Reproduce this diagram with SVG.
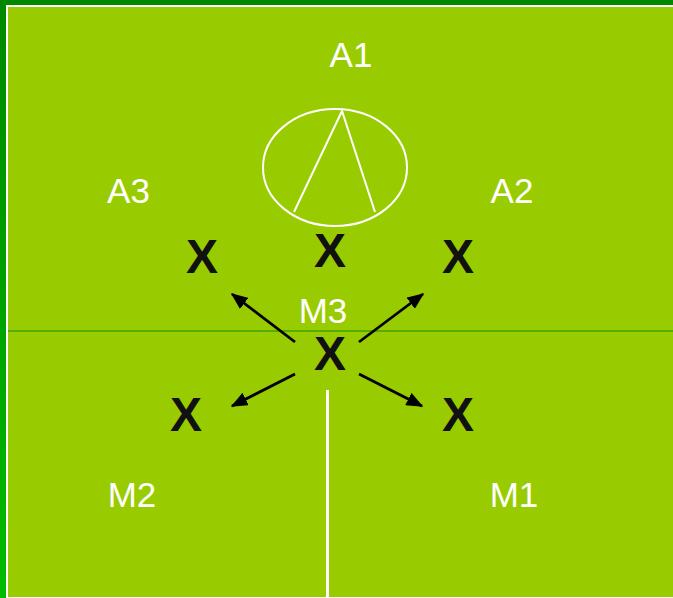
<svg xmlns="http://www.w3.org/2000/svg" width="673" height="598" viewBox="0 0 673 598">
<defs>
<linearGradient id="edge" x1="0" y1="0" x2="0" y2="1">
<stop offset="0" stop-color="#008800"/>
<stop offset="1" stop-color="#00bb00"/>
</linearGradient>
<marker id="ah" markerWidth="6" markerHeight="5" refX="5.5" refY="2.5" orient="auto" markerUnits="strokeWidth">
<path d="M0,0 L6,2.5 L0,5 Z" fill="#000"/>
</marker>
<style>
.lbl{font-family:"Liberation Sans",Arial,sans-serif;font-size:35px;fill:#fff;text-anchor:middle}
.x{font-family:"Liberation Sans",Arial,sans-serif;font-size:48px;font-weight:bold;fill:#111;text-anchor:middle}
.arr{stroke:#000;stroke-width:2.8;fill:none;marker-end:url(#ah)}
</style>
</defs>
<rect x="0" y="0" width="673" height="598" fill="url(#edge)"/>
<rect x="0" y="0" width="673" height="5" fill="#008800"/>
<rect x="6" y="5" width="667" height="593" fill="#fff"/>
<rect x="8" y="7" width="665" height="590" fill="#99cc00"/>
<line x1="8" y1="331" x2="673" y2="331" stroke="#0f8f00" stroke-width="1"/>
<line x1="327.5" y1="390" x2="327.5" y2="598" stroke="#fff" stroke-width="3"/>
<g id="goal" fill="none" stroke="#fff" stroke-width="2">
<ellipse cx="335" cy="167.5" rx="72" ry="58.5"/>
<polyline points="294,212 342,111 375,212"/>
</g>
<g id="A1"><text class="lbl" x="351" y="67">A1</text></g>
<g id="A2"><text class="lbl" x="512" y="203">A2</text></g>
<g id="A3"><text class="lbl" x="128.5" y="203">A3</text></g>
<g id="M1"><text class="lbl" x="514" y="507">M1</text></g>
<g id="M2"><text class="lbl" x="132" y="507">M2</text></g>
<g id="M3"><text class="lbl" x="323" y="323">M3</text></g>
<g id="x-a3"><text class="x" x="202" y="273">X</text></g>
<g id="x-a1"><text class="x" x="330" y="267">X</text></g>
<g id="x-a2"><text class="x" x="458" y="273">X</text></g>
<g id="x-m3"><text class="x" x="330" y="370">X</text></g>
<g id="x-m2"><text class="x" x="186" y="431">X</text></g>
<g id="x-m1"><text class="x" x="458" y="431">X</text></g>
<g id="connectors">
<line class="arr" x1="295" y1="342" x2="232" y2="294"/>
<line class="arr" x1="359" y1="342" x2="423" y2="294"/>
<line class="arr" x1="295" y1="374" x2="232" y2="406"/>
<line class="arr" x1="359" y1="374" x2="422" y2="406"/>
</g>
</svg>
